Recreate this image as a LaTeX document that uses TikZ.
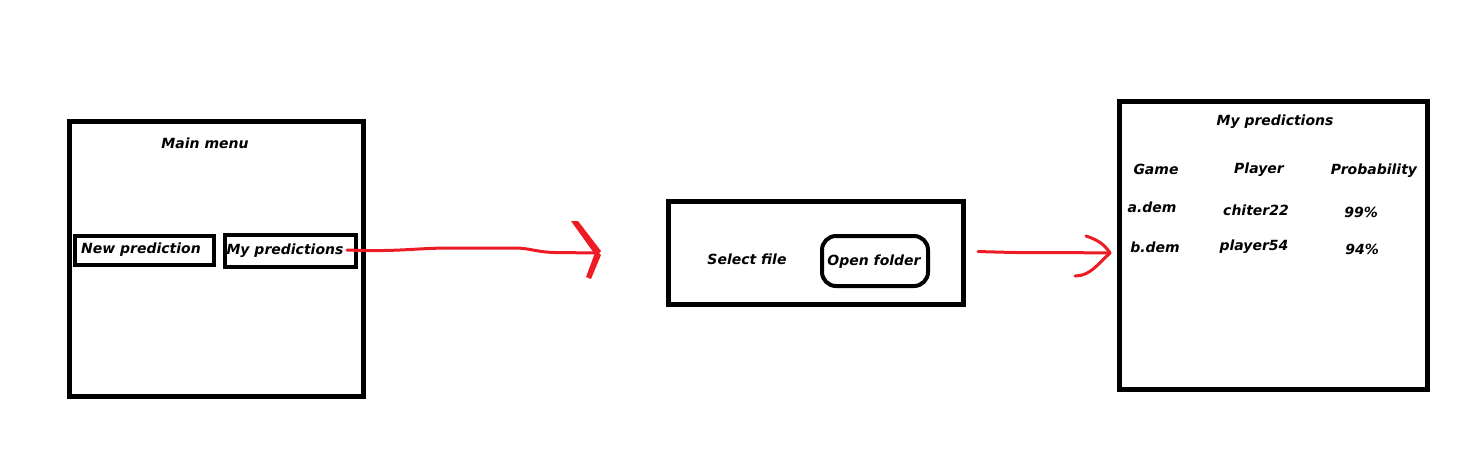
\documentclass[tikz,border=0pt]{standalone}
\usepackage{fontspec}
\setmainfont{DejaVu Sans}
\definecolor{pred}{RGB}{237,28,36}
\begin{document}
\begin{tikzpicture}[x=1pt,y=-1pt,
  txt/.style={font=\fontsize{14}{17}\selectfont\bfseries\itshape, inner sep=0pt, text=black},
  screen/.style={draw=black, line width=5pt, inner sep=0pt},
  btn/.style={draw=black, line width=4pt, inner sep=0pt},
  redline/.style={draw=pred, line width=3pt, line cap=round, line join=round},
  redhead/.style={draw=pred, line width=5pt, line cap=round, line join=round}]
\useasboundingbox (0,0) rectangle (1477,475);
% screen 1
\node[screen, minimum width=294pt, minimum height=275pt] (mainmenu) at (216.5,259) {};
\node[txt] (mmtitle) at (205,143) {Main menu};
\node[btn, minimum width=139pt, minimum height=29pt] (newpredbox) at (144.5,250.5) {};
\node[txt] (newpred) at (141,250) {New prediction};
\node[btn, minimum width=131pt, minimum height=32pt] (mypredbox) at (290.5,251) {};
\node[txt] (mypred) at (285,251) {My predictions};
% screen 2
\node[screen, minimum width=295pt, minimum height=102.5pt] (selectbox) at (815.5,252.75) {};
\node[txt] (selectfile) at (747,259) {Select file};
\node[btn, rounded corners=14pt, minimum width=106pt, minimum height=50pt] (openbox) at (875,261) {};
\node[txt] (openfolder) at (874,262) {Open folder};
% screen 3
\node[screen, minimum width=308.5pt, minimum height=288pt] (predbox) at (1273.25,245.5) {};
\node[txt] (ptitle) at (1275,122) {My predictions};
\node[txt] (hgame) at (1156,169) {Game};
\node[txt] (hplayer) at (1259,170) {Player};
\node[txt] (hprob) at (1374,171) {Probability};
\node[txt] (g1) at (1152,207) {a.dem};
\node[txt] (p1) at (1256,210) {chiter22};
\node[txt] (r1) at (1361,212) {99\%};
\node[txt] (g2) at (1155,247) {b.dem};
\node[txt] (p2) at (1254,247) {player54};
\node[txt] (r2) at (1362,249) {94\%};
% arrow 1
\coordinate (a1s) at (347,250);
\coordinate (a1t) at (598,253);
\coordinate (a1u) at (575,224);
\coordinate (a1d) at (589,277);
\draw[redline] (a1s) .. controls (400,252) and (415,248) .. (450,248) -- (515,248) .. controls (530,248) and (535,252) .. (555,252.5) -- (a1t);
\fill[pred] (571,221) -- (578,221) -- (601,251) -- (596,256) -- cycle;
\fill[pred] (596,250) -- (601,255) -- (591,279) -- (586,277) -- cycle;
% arrow 2
\coordinate (a2s) at (978,251.5);
\coordinate (a2t) at (1110,253);
\coordinate (a2u) at (1086,236);
\coordinate (a2d) at (1075,276);
\draw[redline] (a2s) .. controls (1010,252.5) and (1030,253) .. (1060,252.5) -- (a2t);
\draw[redline] (a2u) .. controls (1098,240) and (1104,244) .. (a2t);
\draw[redline] (a2t) .. controls (1098,264) and (1090,276) .. (a2d);
\end{tikzpicture}
\end{document}
